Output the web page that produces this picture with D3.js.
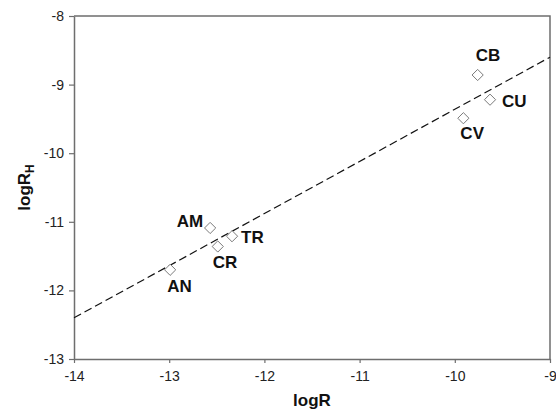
<!DOCTYPE html>
<html>
<head>
<meta charset="utf-8">
<script src="https://cdn.jsdelivr.net/npm/d3@7"></script>
<style>
  body { margin: 0; background: #fff; }
  svg { display: block; font-family: Arial, "Liberation Sans", sans-serif; }
</style>
</head>
<body>
<svg width="556" height="410"></svg>
<script>
// samples
const names = ['AN', 'AM', 'CR', 'TR', 'CV', 'CB', 'CU'];
const logR = [-12.99, -12.57, -12.49, -12.34, -9.91, -9.76, -9.63];
const logRH = [-11.70, -11.09, -11.36, -11.21, -9.49, -8.86, -9.22];
// label offsets from the marker: [dx, dy, anchor]
const labelPos = [
  [-3, 22, 'start'], [-7, -1, 'end'], [-5, 22, 'start'], [9, 7, 'start'],
  [-3, 21, 'start'], [-2, -14, 'start'], [12, 7, 'start']
];
// fitted dashed line, end points
const fitX = [-14, -9];
const fitY = [-12.40, -8.60];
const xTicks = [-14, -13, -12, -11, -10, -9];
const yTicks = [-13, -12, -11, -10, -9, -8];

const svg = d3.select('svg');
const margin = { top: 16, right: 6, bottom: 51, left: 74 };
const width = +svg.attr('width');
const height = +svg.attr('height');
const innerWidth = width - margin.left - margin.right;
const innerHeight = height - margin.top - margin.bottom;

const data = names.map((n, i) => ({ name: n, x: logR[i], y: logRH[i], pos: labelPos[i] }));

const xScale = d3.scaleLinear().domain([-14, -9]).range([0, innerWidth]);
const yScale = d3.scaleLinear().domain([-13, -8]).range([innerHeight, 0]);

const g = svg.append('g')
  .attr('transform', `translate(${margin.left},${margin.top})`);

const axisColor = '#6e6e6e';
const fmt = d => String(d); // plain hyphen like the original

// frame (top and right)
g.append('path')
  .attr('d', `M0,0H${innerWidth}V${innerHeight}`)
  .attr('fill', 'none')
  .attr('stroke', axisColor)
  .attr('stroke-width', 1.5);

const xAxisG = g.append('g')
  .attr('transform', `translate(0,${innerHeight})`)
  .call(d3.axisBottom(xScale).tickValues(xTicks).tickFormat(fmt)
    .tickSize(4).tickPadding(5).tickSizeOuter(0));
const yAxisG = g.append('g')
  .call(d3.axisLeft(yScale).tickValues(yTicks).tickFormat(fmt)
    .tickSize(5).tickPadding(5).tickSizeOuter(0));

[xAxisG, yAxisG].forEach(a => {
  a.select('.domain').attr('stroke', axisColor).attr('stroke-width', 1.5);
  a.selectAll('.tick line').attr('stroke', axisColor).attr('stroke-width', 1.2);
  a.selectAll('.tick text')
    .attr('fill', '#222')
    .style('font-size', '14px')
    .style('font-family', 'Arial, "Liberation Sans", sans-serif');
});
xAxisG.selectAll('.tick text').attr('dy', '0.9em');

// dashed fit line
g.append('line')
  .attr('x1', xScale(fitX[0])).attr('y1', yScale(fitY[0]))
  .attr('x2', xScale(fitX[1])).attr('y2', yScale(fitY[1]))
  .attr('stroke', '#111')
  .attr('stroke-width', 1.2)
  .attr('stroke-dasharray', '8,4');

// diamond markers
const symbol = d3.symbol().type(d3.symbolDiamond2).size(80);
g.selectAll('.pt').data(data).enter().append('path')
  .attr('class', 'pt')
  .attr('transform', d => `translate(${xScale(d.x)},${yScale(d.y)})`)
  .attr('d', symbol)
  .attr('fill', '#fff')
  .attr('stroke', '#7a7a7a')
  .attr('stroke-width', 1);

g.selectAll('.lbl').data(data).enter().append('text')
  .attr('class', 'lbl')
  .attr('x', d => xScale(d.x) + d.pos[0])
  .attr('y', d => yScale(d.y) + d.pos[1])
  .attr('text-anchor', d => d.pos[2])
  .attr('font-size', 17)
  .attr('font-weight', 'bold')
  .attr('fill', '#111')
  .text(d => d.name);

// axis titles
svg.append('text')
  .attr('x', margin.left + innerWidth / 2)
  .attr('y', 406)
  .attr('text-anchor', 'middle')
  .attr('font-size', 17)
  .attr('font-weight', 'bold')
  .attr('fill', '#111')
  .text('logR');

const yTitle = svg.append('text')
  .attr('transform', `translate(30,${margin.top + innerHeight / 2}) rotate(-90)`)
  .attr('text-anchor', 'middle')
  .attr('font-size', 17)
  .attr('font-weight', 'bold')
  .attr('fill', '#111');
yTitle.append('tspan').text('logR');
yTitle.append('tspan').attr('dy', 4).attr('font-size', 12).text('H');
</script>
</body>
</html>
